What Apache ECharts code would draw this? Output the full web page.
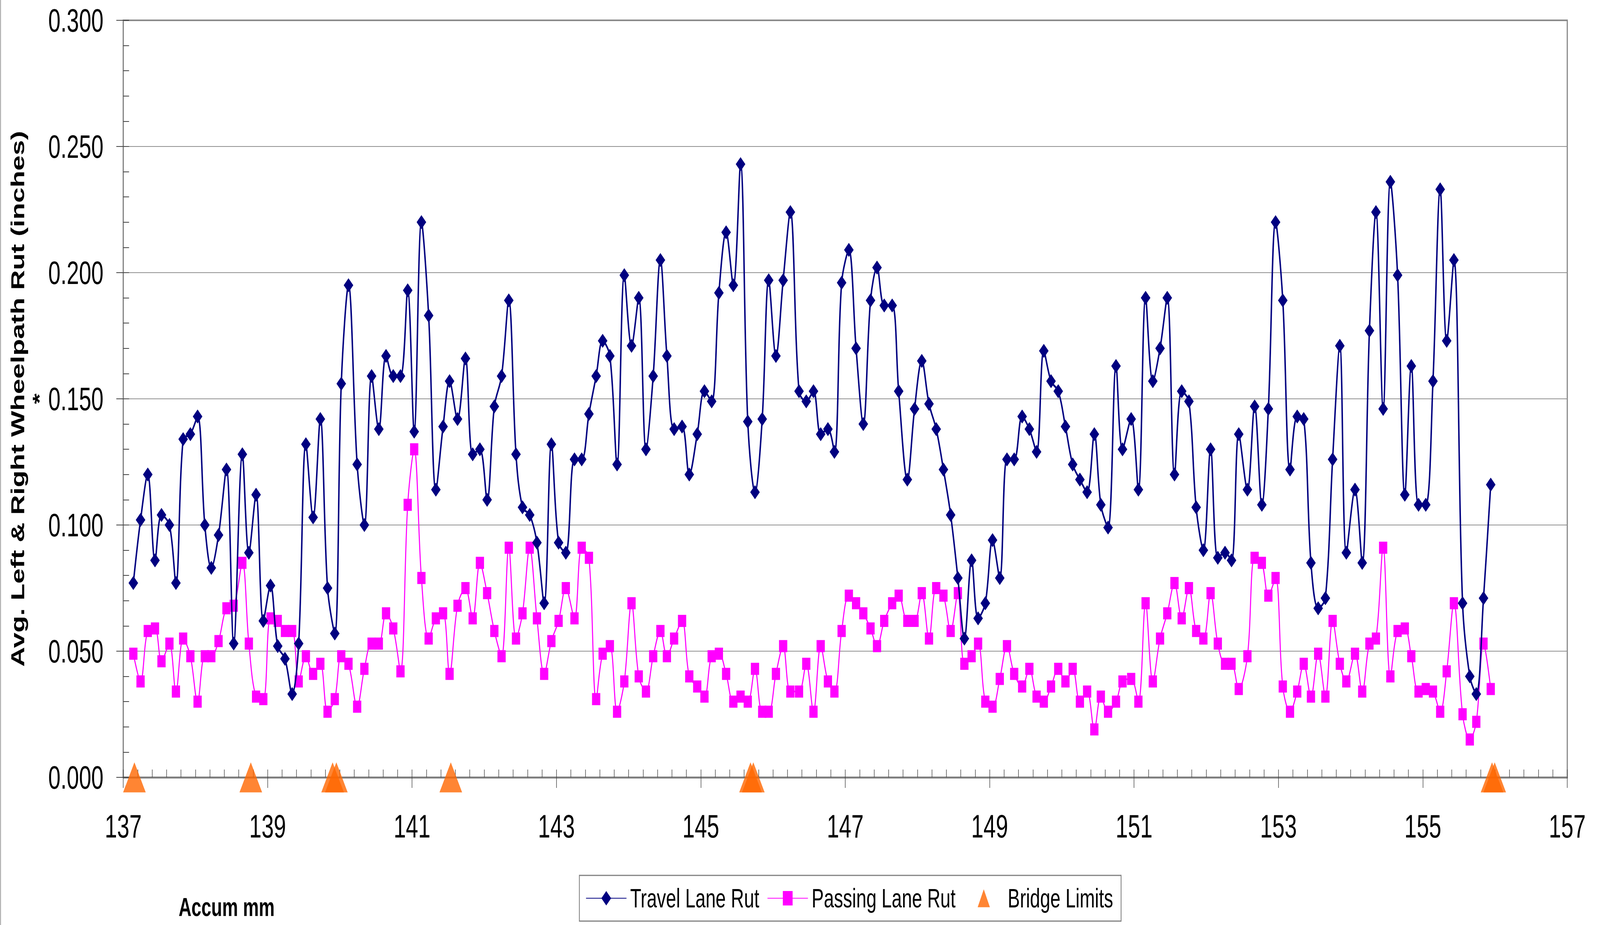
<!DOCTYPE html>
<html>
<head>
<meta charset="utf-8">
<script src="https://cdn.jsdelivr.net/npm/echarts@6/dist/echarts.min.js"></script>
<style>
html,body{margin:0;padding:0;background:#fff;overflow:hidden;}
#wrap{width:6012px;height:2368px;transform-origin:0 0;}
#chart{width:6012px;height:2368px;}
</style>
</head>
<body>
<div id="wrap"><div id="chart"></div></div>
<script>
const mileposts = [
137.14,137.24,137.34,137.44,137.53,137.64,137.73,137.83,137.93,138.03,138.13,138.22,138.32,138.43,138.53,138.65,138.74,138.84,138.94,139.04,139.14,139.24,139.34,139.43,139.53,139.63,139.73,139.83,139.93,140.02,140.12,140.24,140.34,140.44,140.54,140.64,140.74,140.84,140.94,
141.03,141.13,141.23,141.33,141.43,141.52,141.63,141.74,141.84,141.94,142.04,142.14,142.24,142.34,142.44,142.53,142.63,142.73,142.83,142.93,143.03,143.13,143.25,143.35,143.45,143.55,143.64,143.74,143.84,143.94,144.04,144.14,144.24,144.34,144.44,144.53,144.63,144.74,144.84,
144.95,145.05,145.15,145.25,145.35,145.45,145.55,145.65,145.75,145.85,145.94,146.04,146.14,146.24,146.36,146.46,146.56,146.66,146.76,146.85,146.95,147.05,147.15,147.25,147.35,147.44,147.54,147.65,147.74,147.86,147.96,148.06,148.16,148.26,148.36,148.46,148.56,148.65,148.75,
148.84,148.94,149.04,149.14,149.24,149.34,149.45,149.55,149.65,149.75,149.85,149.95,150.05,150.15,150.25,150.35,150.45,150.54,150.64,150.75,150.84,150.96,151.06,151.16,151.26,151.36,151.46,151.56,151.66,151.76,151.86,151.96,152.06,152.16,152.26,152.35,152.45,152.57,152.67,
152.77,152.86,152.96,153.06,153.16,153.26,153.35,153.45,153.55,153.65,153.75,153.85,153.94,154.06,154.16,154.26,154.35,154.45,154.55,154.65,154.75,154.84,154.94,155.04,155.14,155.24,155.33,155.43,155.55,155.65,155.74,155.84,155.94
];
const travelRut = [
0.077,0.102,0.120,0.086,0.104,0.100,0.077,0.134,0.136,0.143,0.100,0.083,0.096,0.122,0.053,0.128,0.089,0.112,0.062,0.076,0.052,0.047,0.033,0.053,0.132,0.103,0.142,0.075,0.057,0.156,0.195,0.124,0.100,0.159,0.138,0.167,0.159,0.159,0.193,
0.137,0.220,0.183,0.114,0.139,0.157,0.142,0.166,0.128,0.130,0.110,0.147,0.159,0.189,0.128,0.107,0.104,0.093,0.069,0.132,0.093,0.089,0.126,0.126,0.144,0.159,0.173,0.167,0.124,0.199,0.171,0.190,0.130,0.159,0.205,0.167,0.138,0.139,0.120,
0.136,0.153,0.149,0.192,0.216,0.195,0.243,0.141,0.113,0.142,0.197,0.167,0.197,0.224,0.153,0.149,0.153,0.136,0.138,0.129,0.196,0.209,0.170,0.140,0.189,0.202,0.187,0.187,0.153,0.118,0.146,0.165,0.148,0.138,0.122,0.104,0.079,0.055,0.086,
0.063,0.069,0.094,0.079,0.126,0.126,0.143,0.138,0.129,0.169,0.157,0.153,0.139,0.124,0.118,0.113,0.136,0.108,0.099,0.163,0.130,0.142,0.114,0.190,0.157,0.170,0.190,0.120,0.153,0.149,0.107,0.090,0.130,0.087,0.089,0.086,0.136,0.114,0.147,
0.108,0.146,0.220,0.189,0.122,0.143,0.142,0.085,0.067,0.071,0.126,0.171,0.089,0.114,0.085,0.177,0.224,0.146,0.236,0.199,0.112,0.163,0.108,0.108,0.157,0.233,0.173,0.205,0.069,0.040,0.033,0.071,0.116
];
const passingRut = [
0.049,0.038,0.058,0.059,0.046,0.053,0.034,0.055,0.048,0.030,0.048,0.048,0.054,0.067,0.068,0.085,0.053,0.032,0.031,0.063,0.062,0.058,0.058,0.038,0.048,0.041,0.045,0.026,0.031,0.048,0.045,0.028,0.043,0.053,0.053,0.065,0.059,0.042,0.108,
0.130,0.079,0.055,0.063,0.065,0.041,0.068,0.075,0.063,0.085,0.073,0.058,0.048,0.091,0.055,0.065,0.091,0.063,0.041,0.054,0.062,0.075,0.063,0.091,0.087,0.031,0.049,0.052,0.026,0.038,0.069,0.040,0.034,0.048,0.058,0.048,0.055,0.062,0.040,
0.036,0.032,0.048,0.049,0.041,0.030,0.032,0.030,0.043,0.026,0.026,0.041,0.052,0.034,0.034,0.045,0.026,0.052,0.038,0.034,0.058,0.072,0.069,0.065,0.059,0.052,0.062,0.069,0.072,0.062,0.062,0.073,0.055,0.075,0.072,0.058,0.073,0.045,0.048,
0.053,0.030,0.028,0.039,0.052,0.041,0.036,0.043,0.032,0.030,0.036,0.043,0.038,0.043,0.030,0.034,0.019,0.032,0.026,0.030,0.038,0.039,0.030,0.069,0.038,0.055,0.065,0.077,0.063,0.075,0.058,0.055,0.073,0.053,0.045,0.045,0.035,0.048,0.087,
0.085,0.072,0.079,0.036,0.026,0.034,0.045,0.032,0.049,0.032,0.062,0.045,0.038,0.049,0.034,0.053,0.055,0.091,0.040,0.058,0.059,0.048,0.034,0.035,0.034,0.026,0.042,0.069,0.025,0.015,0.022,0.053,0.035
];
const bridgeMiles = [137.155, 138.767, 139.900, 139.952, 141.537, 145.688, 145.727, 155.958, 155.995];
const bridgeLevel = [0, 0, 0, 0, 0, 0, 0, 0, 0];
const xRange = [137, 157, 2];
const yRange = [0, 0.3, 0.05];

// fit the 6012x2368 design into the actual window
const sx = window.innerWidth / 6012, sy = window.innerHeight / 2368;
document.getElementById('wrap').style.transform = 'scale(' + sx + ',' + sy + ')';

const FONT = '"Liberation Sans", Arial, sans-serif';
const chart = echarts.init(document.getElementById('chart'), null, {renderer:'svg', width:6012, height:2368});

const travelData = mileposts.map((m,i)=>[m, travelRut[i]]);
const passingData = mileposts.map((m,i)=>[m, passingRut[i]]);
const bridgeData = bridgeMiles.map((m,i)=>[m, bridgeLevel[i]]);

const option = {
  backgroundColor:'#ffffff',
  animation:false,
  grid:{left:463, right:123, top:52, bottom:378, show:true, borderColor:'#808080', borderWidth:4, backgroundColor:'transparent'},
  xAxis:[{
    type:'value', min:xRange[0], max:xRange[1], interval:xRange[2],
    axisLine:{show:true, lineStyle:{color:'#808080', width:5}},
    axisTick:{show:true, inside:false, length:27, lineStyle:{color:'#404040', width:2}},
    axisLabel:{show:true, margin:84, fontSize:83, fontFamily:FONT, color:'#000'},
    splitLine:{show:false}
  },{
    type:'value', min:xRange[0], max:xRange[1], interval:0.2, position:'bottom',
    axisLine:{show:false},
    axisTick:{show:true, inside:true, length:20, lineStyle:{color:'#404040', width:2}},
    axisLabel:{show:false}, splitLine:{show:false}
  }],
  yAxis:[{
    type:'value', min:yRange[0], max:yRange[1], interval:yRange[2],
    axisLine:{show:true, lineStyle:{color:'#808080', width:4}},
    axisTick:{show:true, inside:false, length:26, lineStyle:{color:'#404040', width:2}},
    axisLabel:{show:true, margin:74, fontSize:83, fontFamily:FONT, color:'#000', formatter:v=>v.toFixed(3)},
    splitLine:{show:true, lineStyle:{color:'#909090', width:2}}
  },{
    type:'value', min:yRange[0], max:yRange[1], interval:0.01, position:'left',
    axisLine:{show:false},
    axisTick:{show:true, inside:true, length:22, lineStyle:{color:'#404040', width:2}},
    axisLabel:{show:false}, splitLine:{show:false}
  }],
  legend:{
    left:2177, top:2241, orient:'horizontal',
    padding:[24,30,24,24], itemGap:30, itemWidth:152, itemHeight:46,
    borderColor:'#808080', borderWidth:3, backgroundColor:'#fff',
    textStyle:{fontSize:68.5, fontFamily:FONT, color:'#000', padding:[0,0,0,9]},
    data:[
      {name:'Travel Lane Rut'},
      {name:'Passing Lane Rut'},
      {name:'Bridge Limits', icon:'path://M0,23 L0.01,23 Z M53,46 L76,0 L99,46 Z M152,23 L151.99,23 Z'}
    ]
  },
  graphic:[
    {type:'line', shape:{x1:2, y1:0, x2:2, y2:2368}, style:{stroke:'#a0a0a0', lineWidth:3}, silent:true},
    {type:'text', x:66, y:1021, rotation:Math.PI/2, style:{text:'Avg. Left & Right Wheelpath Rut (inches)', font:'bold 70.5px '+FONT, fill:'#000', textAlign:'center', textVerticalAlign:'middle'}},
    {type:'text', x:148, y:1021, rotation:Math.PI/2, style:{text:'*', font:'bold 70px '+FONT, fill:'#000', textAlign:'center', textVerticalAlign:'middle'}},
    {type:'text', left:671, top:2288, style:{text:'Accum mm', font:'bold 67px '+FONT, fill:'#000'}}
  ],
  series:[
    {name:'Travel Lane Rut', type:'line', data:travelData, smooth:0.35, xAxisIndex:0, yAxisIndex:0,
     symbol:'diamond', symbolSize:36, showAllSymbol:true,
     lineStyle:{color:'#000080', width:5.5}, itemStyle:{color:'#000080'}, z:3},
    {name:'Passing Lane Rut', type:'line', data:passingData, smooth:0.35, xAxisIndex:0, yAxisIndex:0,
     symbol:'rect', symbolSize:[31,31], showAllSymbol:true,
     lineStyle:{color:'#FF00FF', width:4}, itemStyle:{color:'#FF00FF'}, z:2},
    {name:'Bridge Limits', type:'scatter', data:bridgeData, xAxisIndex:0, yAxisIndex:0,
     symbol:'triangle', symbolSize:[85,77], clip:false,
     itemStyle:{color:'#FF6600'}, z:4}
  ]
};
chart.setOption(option);
</script>
</body>
</html>
